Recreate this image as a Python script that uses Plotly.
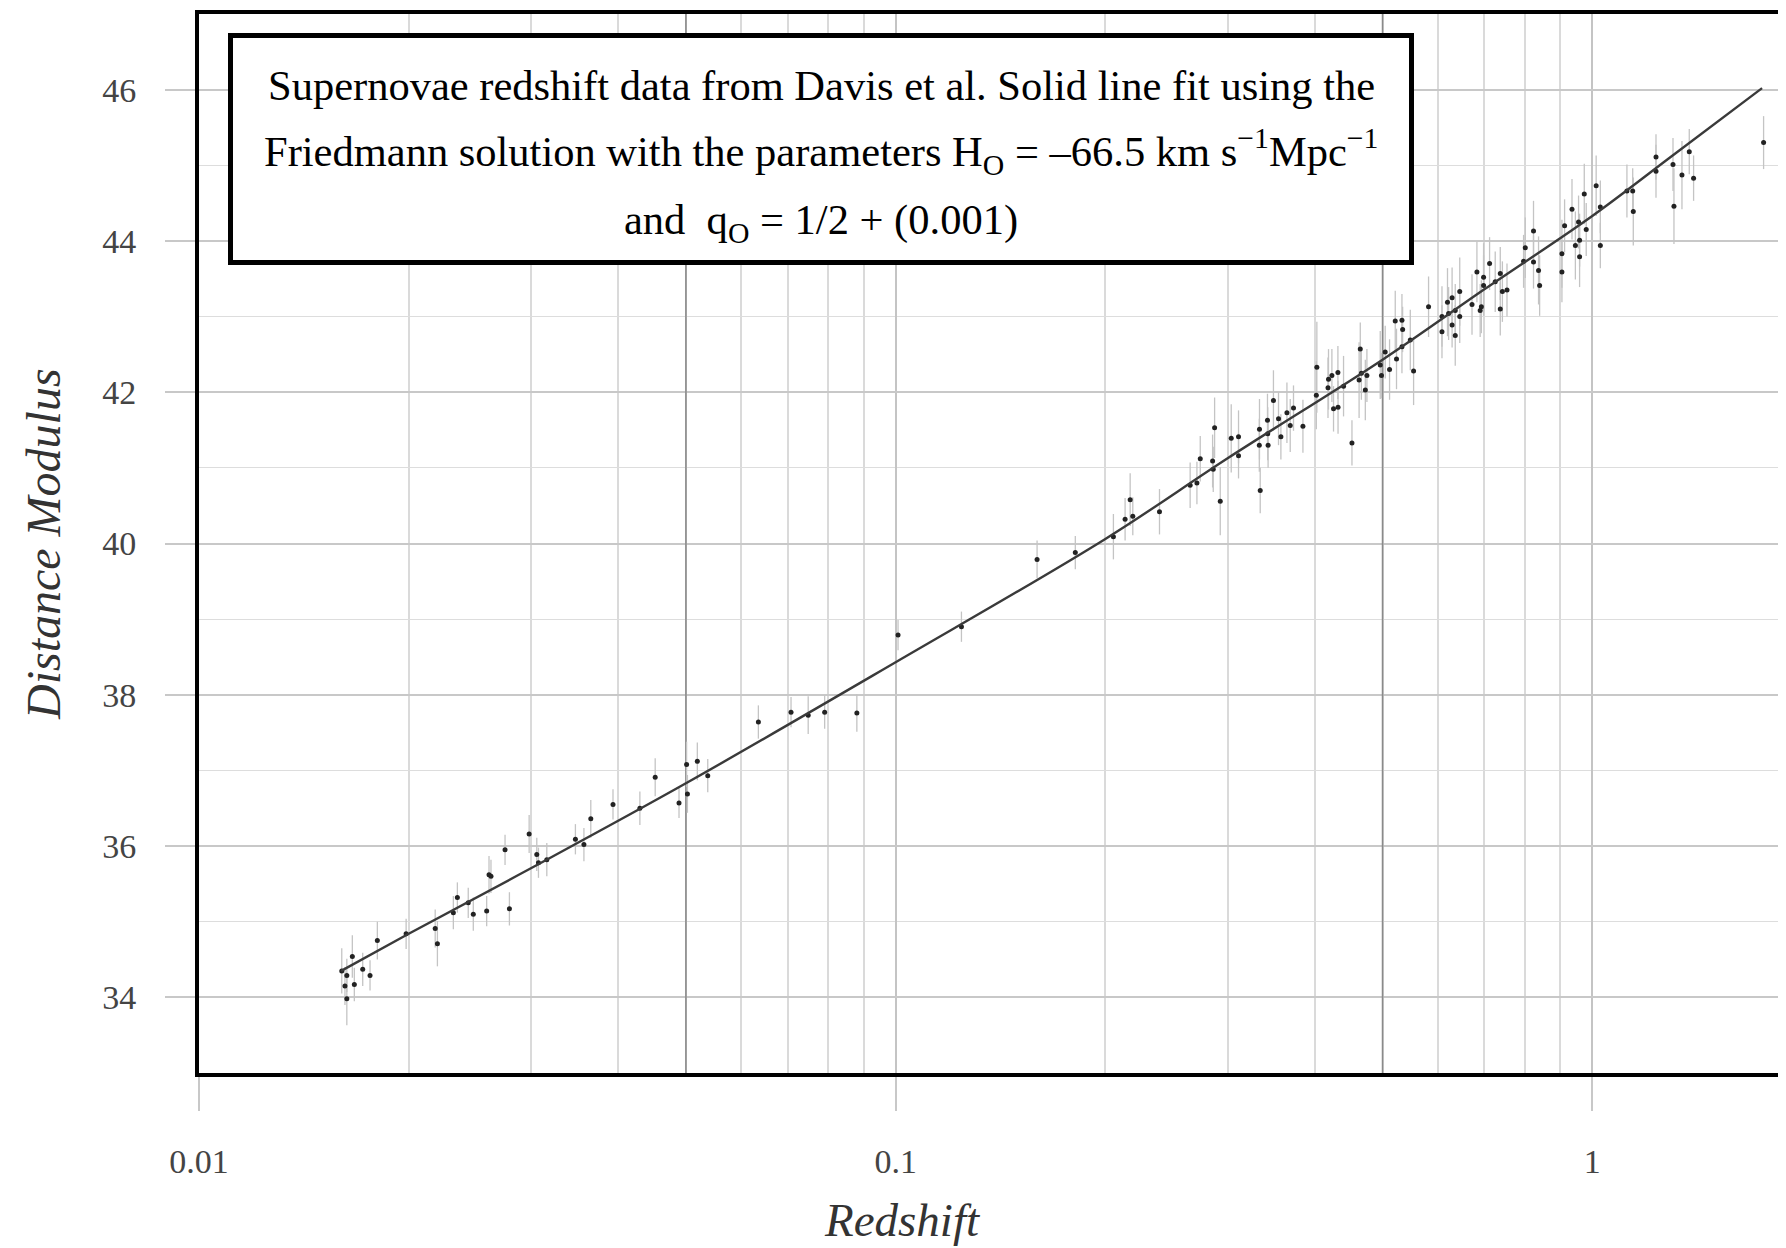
import plotly.graph_objects as go

# ---------------- data ----------------
redshift = [
    0.01603, 0.01630, 0.01660, 0.01620, 0.01671, 0.01630, 0.01718, 0.01760, 0.01803, 0.01983,
    0.02183, 0.02199, 0.02349, 0.02318, 0.02435, 0.02476, 0.02588, 0.02608, 0.02625, 0.02750,
    0.02790, 0.02978, 0.03054, 0.03071, 0.03157,
    0.03470, 0.03569, 0.03651, 0.03929, 0.04294, 0.04517, 0.04887, 0.05011, 0.05025, 0.05192, 0.05374,
    0.06353, 0.07077, 0.07490, 0.07909, 0.08797, 0.1008, 0.1243, 0.1596, 0.1811,
    0.2054, 0.2135, 0.2171, 0.2190, 0.2392, 0.2647, 0.2707, 0.2737,
    0.2924, 0.3337,
    0.2851, 0.2857, 0.2870, 0.3032, 0.3106, 0.3106, 0.3329, 0.3327, 0.3418, 0.3425,
    0.3421, 0.3486, 0.3545, 0.3573, 0.3645, 0.3685, 0.3725, 0.3843,
    0.4024, 0.4017, 0.4182, 0.4229, 0.4175, 0.4314, 0.4252, 0.4316, 0.4395, 0.4519,
    0.4645, 0.4627, 0.4662, 0.4723, 0.4748, 0.4962, 0.4982, 0.5044, 0.5117, 0.5214,
    0.5331, 0.5343, 0.5236, 0.5331, 0.5480, 0.5540, 0.5821,
    0.6085, 0.6085, 0.6197, 0.6220, 0.6292, 0.6358, 0.6292, 0.6358, 0.6453, 0.6453,
    0.6720, 0.6830, 0.6904, 0.6931, 0.6982, 0.6982, 0.7122, 0.7256, 0.7378, 0.7378,
    0.7430, 0.7544, 0.8014, 0.7969, 0.8235, 0.8235, 0.8373, 0.8403, 0.9046, 0.9046,
    0.9126, 0.9352, 0.9457, 0.9557, 0.9590, 0.9590, 0.9739, 0.9802, 1.013, 1.027,
    1.027,
    1.1214, 1.1430, 1.1452, 1.2345, 1.2345, 1.3058, 1.3100, 1.3451, 1.3780, 1.3978, 1.7617,
]

distance_modulus = [
    34.35, 34.29, 34.54, 34.15, 34.17, 33.98, 34.37, 34.29, 34.75, 34.84,
    34.91, 34.71, 35.32, 35.12, 35.25, 35.10, 35.14, 35.62, 35.60, 35.95,
    35.17, 36.16, 35.89, 35.78, 35.82,
    36.09, 36.02, 36.36, 36.55, 36.50, 36.91, 36.57, 37.08, 36.69, 37.12, 36.93,
    37.64, 37.77, 37.73, 37.77, 37.76, 38.79, 38.90, 39.79, 39.88,
    40.09, 40.32, 40.58, 40.36, 40.42, 40.77, 40.80, 41.12,
    40.56, 40.70,
    41.09, 40.98, 41.53, 41.39, 41.41, 41.16, 41.51, 41.30, 41.63, 41.30,
    41.45, 41.89, 41.65, 41.41, 41.73, 41.56, 41.79, 41.55,
    42.33, 41.96, 42.17, 42.22, 42.06, 42.26, 41.78, 41.80, 42.08, 41.33,
    42.57, 42.16, 42.25, 42.03, 42.22, 42.36, 42.22, 42.53, 42.30, 42.94,
    42.95, 42.83, 42.44, 42.60, 42.69, 42.28, 43.13,
    43.00, 42.80, 43.19, 43.04, 43.25, 43.08, 42.89, 42.75, 43.33, 43.00,
    43.16, 43.59, 43.08, 43.13, 43.52, 43.41, 43.70, 43.46, 43.57, 43.10,
    43.33, 43.35, 43.91, 43.73, 44.13, 43.72, 43.61, 43.41, 43.83, 43.59,
    44.20, 44.42, 43.94, 44.25, 43.79, 44.01, 44.62, 44.15, 44.73, 44.45,
    43.94,
    44.66, 44.66, 44.39, 45.11, 44.92, 45.01, 44.46, 44.87, 45.18, 44.83, 45.30,
]

modulus_error = [
    0.30, 0.22, 0.28, 0.25, 0.22, 0.35, 0.22, 0.20, 0.25, 0.20,
    0.25, 0.30, 0.20, 0.22, 0.20, 0.22, 0.20, 0.25, 0.22, 0.20,
    0.22, 0.25, 0.22, 0.20, 0.22,
    0.20, 0.22, 0.25, 0.20, 0.22, 0.25, 0.20, 0.30, 0.25, 0.25, 0.22,
    0.22, 0.20, 0.25, 0.22, 0.25, 0.20, 0.20, 0.25, 0.22,
    0.30, 0.28, 0.35, 0.25, 0.30, 0.30, 0.28, 0.30,
    0.45, 0.30,
    0.35, 0.30, 0.40, 0.45, 0.35, 0.30, 0.40, 0.35, 0.35, 0.30,
    0.35, 0.40, 0.35, 0.30, 0.40, 0.35, 0.30, 0.35,
    0.60, 0.45, 0.40, 0.35, 0.40, 0.35, 0.30, 0.35, 0.40, 0.30,
    0.35, 0.50, 0.35, 0.40, 0.35, 0.45, 0.30, 0.35, 0.40, 0.40,
    0.35, 0.30, 0.40, 0.35, 0.40, 0.45, 0.40,
    0.40, 0.35, 0.45, 0.35, 0.40, 0.35, 0.30, 0.40, 0.45, 0.35,
    0.40, 0.40, 0.35, 0.35, 0.45, 0.40, 0.35, 0.40, 0.35, 0.35,
    0.40, 0.35, 0.40, 0.35, 0.40, 0.35, 0.45, 0.40, 0.45, 0.40,
    0.35, 0.40, 0.45, 0.35, 0.40, 0.35, 0.40, 0.35, 0.40, 0.35,
    0.30,
    0.35, 0.30, 0.45, 0.30, 0.35, 0.35, 0.50, 0.45, 0.30, 0.30, 0.35,
]

# solid fit line
fit_redshift = [0.0160, 0.02, 0.03, 0.05, 0.1, 0.2, 0.3, 0.5, 0.7, 1.0, 1.3, 1.753]
fit_modulus = [34.35, 34.84, 35.71, 36.83, 38.43, 40.06, 41.13, 42.43, 43.36, 44.33, 45.12, 46.02]

x_major_ticks = [0.01, 0.1, 1]
x_major_labels = ["0.01", "0.1", "1"]
x_minor_grid = [0.02, 0.03, 0.04, 0.05, 0.06, 0.07, 0.08, 0.09,
                0.2, 0.3, 0.4, 0.5, 0.6, 0.7, 0.8, 0.9]
x_dark_grid = [0.05, 0.5]
y_major_ticks = [34, 36, 38, 40, 42, 44, 46]
y_minor_grid = [33, 35, 37, 39, 41, 43, 45, 47]
y_range = [33, 47]

title_lines = [
    "Supernovae redshift data from Davis et al. Solid line fit using the",
    "Friedmann solution with the parameters H<sub>O</sub> = \u201366.5 km s<sup>\u22121</sup>Mpc<sup>\u22121</sup>",
    "and\u00a0\u00a0q<sub>O</sub> = 1/2 + (0.001)",
]

SERIF = "Liberation Serif, Times New Roman, serif"

fig = go.Figure()

for xv in x_dark_grid:
    fig.add_trace(go.Scatter(
        x=[xv, xv], y=y_range, mode="lines",
        line=dict(color="#8a8a8a", width=1.6),
        hoverinfo="skip", showlegend=False,
    ))

fig.add_trace(go.Scatter(
    x=redshift, y=distance_modulus, mode="markers",
    marker=dict(size=5, color="#222222"),
    error_y=dict(type="data", array=modulus_error, visible=True,
                 color="#c4c4c4", thickness=1.3, width=0),
    showlegend=False,
))

fig.add_trace(go.Scatter(
    x=fit_redshift, y=fit_modulus, mode="lines",
    line=dict(color="#3a3a3a", width=2.4, shape="spline"),
    showlegend=False,
))

# the page body adds an 8px offset; figure sized to fit the window
OFF = 8
W, H = 1778, 1240
L, R, T, B = 191, 0, 6, 175
pw, ph = W - L - R, H - T - B


def px(xpage):
    return (xpage - OFF - L) / pw


def py(ypage):
    return (H - B - (ypage - OFF)) / ph


fig.update_layout(
    width=W, height=H,
    margin=dict(l=L, r=R, t=T, b=B),
    paper_bgcolor="white", plot_bgcolor="white",
    showlegend=False,
    xaxis=dict(
        type="log", range=[-2, 0.2781],
        tickmode="array", tickvals=x_major_ticks, ticktext=x_major_labels,
        ticks="outside", ticklen=34, tickwidth=1.5, tickcolor="#c8c8c8",
        ticklabelstandoff=21,
        tickfont=dict(family=SERIF, size=34, color="#444444"),
        showgrid=True, gridcolor="#c4c4c4", gridwidth=1.5,
        minor=dict(tickmode="array", tickvals=x_minor_grid, showgrid=True,
                   gridcolor="#dadada", gridwidth=1.5, ticks=""),
        showline=True, linecolor="black", linewidth=4, mirror=True,
        zeroline=False,
    ),
    yaxis=dict(
        range=y_range,
        tickmode="array", tickvals=y_major_ticks,
        ticks="outside", ticklen=30, tickwidth=1.5, tickcolor="#c8c8c8",
        ticklabelstandoff=22,
        tickfont=dict(family=SERIF, size=34, color="#444444"),
        showgrid=True, gridcolor="#c8c8c8", gridwidth=1.8,
        minor=dict(tickmode="array", tickvals=y_minor_grid, showgrid=True,
                   gridcolor="#dddddd", gridwidth=1.3, ticks=""),
        showline=True, linecolor="black", linewidth=4, mirror=False,
        zeroline=False,
    ),
)

# caption box
fig.add_shape(type="rect", xref="paper", yref="paper",
              x0=px(230.5), x1=px(1411.5), y0=py(262.5), y1=py(35.5),
              line=dict(color="black", width=5), fillcolor="white", layer="above")

line_centers = [85, 151, 222]
for txt, yc in zip(title_lines, line_centers):
    fig.add_annotation(xref="paper", yref="paper", x=px(821), y=py(yc),
                       xanchor="center", yanchor="middle", showarrow=False,
                       text=txt, font=dict(family=SERIF, size=42.5, color="black"))

# axis titles
fig.add_annotation(xref="paper", yref="paper", x=px(902), y=py(1220),
                   xanchor="center", yanchor="middle", showarrow=False,
                   text="<i>Redshift</i>", font=dict(family=SERIF, size=47, color="#333333"))
fig.add_annotation(xref="paper", yref="paper", x=px(43), y=py(544),
                   xanchor="center", yanchor="middle", showarrow=False, textangle=-90,
                   text="<i>Distance Modulus</i>", font=dict(family=SERIF, size=48, color="#333333"))

fig.write_html("out.html")
